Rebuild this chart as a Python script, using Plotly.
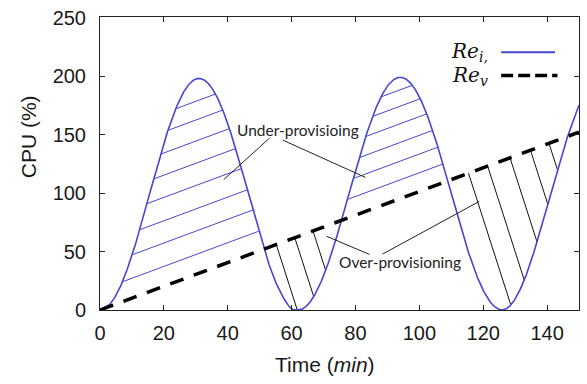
import numpy as np
import plotly.graph_objects as go

# ---------------- data ----------------
TIME = [0, 3, 6, 9, 12, 15, 18, 21, 24, 27, 30, 33, 36, 39, 42, 45, 48, 51, 54, 57, 60, 62,
        64, 66, 69, 72, 75, 78, 81, 84, 87, 90, 93, 96, 99, 102, 105, 108, 111, 114, 117, 120, 123, 126,
        129, 132, 135, 138, 141, 144, 147, 150]
RE_IN = [0, 4.6, 17.7, 38.4, 64.5, 94.0, 123.8, 151.4, 174.0, 189.9, 197.5, 195.9, 185.5, 167.0, 142.3, 114.0, 84.1, 55.4, 30.7, 12.5, 1.0, 0,
         1.9, 7.6, 22.6, 44.2, 70.6, 99.5, 128.4, 154.8, 176.4, 191.4, 198.5, 197.1, 187.3, 169.9, 146.4, 118.9, 89.7, 61.4, 36.4, 16.8, 4.3, 0,
         5.5, 20, 42, 69, 98, 127, 153, 175]

TIME_V = [0, 150]
RE_V = [0, 152]

X_TICKS = [0, 20, 40, 60, 80, 100, 120, 140]
Y_TICKS = [0, 50, 100, 150, 200, 250]

# hatching
LOBES = [(0, 62), (62, 126)]
UNDER_OFFSETS = [[17, 37, 56, 76, 95, 114, 132, 148], [16, 32, 48, 64, 79, 93]]
OVER_START = [55.2, 61.0, 66.7, 115.4, 121.4, 128.4, 134.8, 140.6]
OVER_SLOPE = -8.5

BLUE = "#4646d2"


def densify(x, y, step=0.05):
    x = np.asarray(x, float)
    y = np.asarray(y, float)
    m = np.gradient(y, x)
    xs = np.arange(x[0], x[-1] + 1e-9, step)
    idx = np.clip(np.searchsorted(x, xs, side="right") - 1, 0, len(x) - 2)
    h = x[idx + 1] - x[idx]
    t = (xs - x[idx]) / h
    h00 = 2 * t**3 - 3 * t**2 + 1
    h10 = t**3 - 2 * t**2 + t
    h01 = -2 * t**3 + 3 * t**2
    h11 = t**3 - t**2
    ys = h00 * y[idx] + h10 * h * m[idx] + h01 * y[idx + 1] + h11 * h * m[idx + 1]
    return xs, ys


xs, ys = densify(TIME, RE_IN)
slope_v = (RE_V[1] - RE_V[0]) / (TIME_V[1] - TIME_V[0])
dash_y = RE_V[0] + slope_v * (xs - TIME_V[0])

# under-provisioning hatch (parallel to Re_v)
ux, uy = [], []
for (lo, hi), offs in zip(LOBES, UNDER_OFFSETS):
    mask = (xs >= lo) & (xs <= hi)
    for c in offs:
        d = ys - (dash_y + c)
        ids = np.where(mask & (d > 0))[0]
        if len(ids) == 0:
            continue
        xa, xb = xs[ids[0]], xs[ids[-1]]
        ux += [xa, xb, None]
        uy += [slope_v * xa + c, slope_v * xb + c, None]

# over-provisioning hatch (steep lines from Re_v down to Re_in)
ox, oy = [], []
for x0 in OVER_START:
    y0 = RE_V[0] + slope_v * x0
    line = y0 + OVER_SLOPE * (xs - x0)
    ids = np.where((xs > x0) & (ys - line >= 0))[0]
    if len(ids) == 0:
        continue
    i = ids[0]
    ox += [x0, xs[i], None]
    oy += [y0, line[i], None]

fig = go.Figure()
fig.add_trace(go.Scatter(x=ux, y=uy, mode="lines", line=dict(color=BLUE, width=1), hoverinfo="skip"))
fig.add_trace(go.Scatter(x=ox, y=oy, mode="lines", line=dict(color="#111111", width=1), hoverinfo="skip"))
fig.add_trace(go.Scatter(x=xs, y=ys, mode="lines", line=dict(color=BLUE, width=1.6), name="Re_in"))
fig.add_trace(go.Scatter(x=TIME_V, y=RE_V, mode="lines",
                         line=dict(color="black", width=3.5, dash="14px,11px"), name="Re_v"))

axis_common = dict(showgrid=False, zeroline=False, showline=True, linecolor="#222222", linewidth=1,
                   mirror="ticks", ticks="inside", ticklen=5, tickcolor="#222222",
                   tickfont=dict(family="Liberation Sans, Arial", size=20, color="#1a1a1a"))
fig.update_xaxes(range=[0, 150], tickvals=X_TICKS, ticklabelstandoff=5, **axis_common)
fig.update_yaxes(range=[0, 250.5], tickvals=Y_TICKS, ticklabelstandoff=9, **axis_common)

ann_font = dict(family="Lato, Open Sans", size=15.5, color="#222222")
annotations = [
    dict(x=62, y=154, xref="x", yref="y", text="Under-provisioing", showarrow=False, font=ann_font),
    dict(x=94, y=41, xref="x", yref="y", text="Over-provisioning", showarrow=False, font=ann_font),
    dict(x=-0.15, y=0.59, xref="paper", yref="paper", xanchor="center", yanchor="middle",
         text="CPU (%)", textangle=-90, showarrow=False,
         font=dict(family="Liberation Sans, Arial", size=21, color="#1a1a1a")),
    dict(x=0.469, y=-0.185, xref="paper", yref="paper", xanchor="center", yanchor="middle",
         text="Time (<i>min</i>)", showarrow=False,
         font=dict(family="Liberation Sans, Arial", size=21, color="#1a1a1a")),
    dict(x=0.815, y=0.88, xref="paper", yref="paper", xanchor="right", yanchor="middle",
         text="<i>Re<sub>i,</sub></i>",
         showarrow=False, font=dict(family="DejaVu Serif", size=20, color="#111111")),
    dict(x=0.815, y=0.80, xref="paper", yref="paper", xanchor="right", yanchor="middle",
         text="<i>Re<sub>v</sub></i>",
         showarrow=False, font=dict(family="DejaVu Serif", size=20, color="#111111")),
]

shapes = [
    # leader lines for the labels
    dict(type="line", xref="x", yref="y", x0=53.1, y0=147, x1=38.75, y1=111.5, line=dict(color="#222", width=1)),
    dict(type="line", xref="x", yref="y", x0=57.2, y0=145.3, x1=83.1, y1=113.4, line=dict(color="#222", width=1)),
    dict(type="line", xref="x", yref="y", x0=70.9, y0=63.1, x1=84.4, y1=47.5, line=dict(color="#222", width=1)),
    dict(type="line", xref="x", yref="y", x0=88.5, y0=47.8, x1=118.75, y1=92.8, line=dict(color="#222", width=1)),
    # legend samples
    dict(type="line", xref="paper", yref="paper", x0=0.8375, x1=0.95, y0=0.88, y1=0.88,
         line=dict(color=BLUE, width=2)),
    dict(type="line", xref="paper", yref="paper", x0=0.8375, x1=0.955, y0=0.80, y1=0.80,
         line=dict(color="black", width=3.5, dash="12px,5px")),
]

fig.update_layout(width=587, height=384, margin=dict(l=100, r=7, t=12, b=74),
                  paper_bgcolor="white", plot_bgcolor="white", showlegend=False,
                  annotations=annotations, shapes=shapes)

fig.write_html("out.html")
